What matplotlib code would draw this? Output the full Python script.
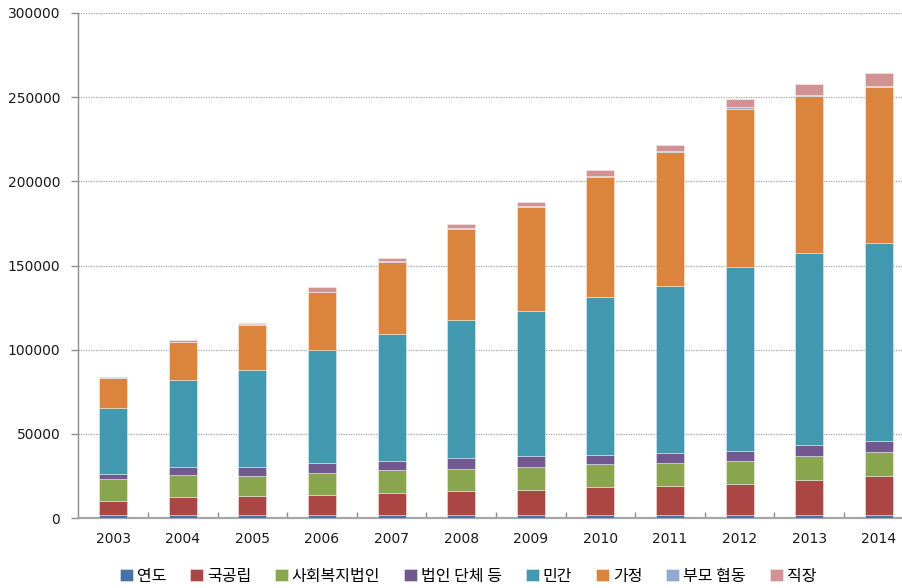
import matplotlib
matplotlib.use('Agg')
import matplotlib.pyplot as plt
from matplotlib.ticker import FixedLocator
import numpy as np

# categories and series
years = ['2003', '2004', '2005', '2006', '2007', '2008',
         '2009', '2010', '2011', '2012', '2013', '2014']
series_names = ['연도', '국공립', '사회복지법인', '법인 단체 등', '민간', '가정', '부모 협동', '직장']

yeondo = [2003, 2004, 2005, 2006, 2007, 2008, 2009, 2010, 2011, 2012, 2013, 2014]
gukgongrip = [8300, 10650, 11240, 11830, 12610, 14020, 14790, 16170, 17000, 18360, 20740, 22720]
sahoebokji = [13060, 12900, 11470, 12890, 13650, 13070, 13670, 13660, 13670, 13670, 14250, 14240]
beobin = [2960, 4930, 5750, 5940, 5760, 6540, 6530, 5760, 5930, 5960, 6540, 6770]
mingan = [39040, 51270, 57230, 67300, 75460, 81760, 86100, 93700, 99200, 109300, 113900, 117400]
gajeong = [17820, 22560, 27100, 34030, 42740, 54300, 61600, 71400, 79400, 93800, 93000, 92700]
bumo = [150, 300, 300, 500, 500, 500, 600, 600, 700, 800, 900, 1000]
jikjang = [200, 1100, 900, 2500, 2000, 2200, 2400, 3200, 3700, 5200, 6500, 7700]

colors = ['#4572A7', '#AA4643', '#89A54E', '#71588F', '#4198AF', '#DB843D', '#93A9CF', '#D19392']

data = [yeondo, gukgongrip, sahoebokji, beobin, mingan, gajeong, bumo, jikjang]

fig = plt.figure(figsize=(9.03, 5.88), dpi=100)
ax = fig.add_axes([78.4 / 903, 1 - 518 / 588, (913.6 - 78.4) / 903, (518 - 13) / 588])

x = np.arange(len(years))
bottom = np.zeros(len(years))
handles = []
for name, vals, c in zip(series_names, data, colors):
    b = ax.bar(x, vals, width=0.4, bottom=bottom, color=c, label=name,
               edgecolor=(1, 1, 1, 0.45), linewidth=0.6, zorder=3)
    handles.append(b)
    bottom += np.array(vals)

ax.set_xlim(-0.5, len(years) - 0.5)
ax.set_ylim(0, 300000)
ax.set_yticks(np.arange(0, 300001, 50000))
ax.yaxis.grid(True, linestyle=(0, (1, 1)), color='#A6A6A6', linewidth=0.9, zorder=0)

# tick marks between categories, pointing in (Excel style)
ax.set_xticks(x)
ax.set_xticklabels(years)
ax.xaxis.set_minor_locator(FixedLocator(np.arange(0.5, len(years) - 0.5, 1)))
ax.tick_params(axis='x', which='major', length=0, pad=10, labelsize=10, labelcolor='#1a1a1a')
ax.tick_params(axis='x', which='minor', direction='in', length=4, color='#8C8C8C', width=1)
ax.tick_params(axis='y', length=5, color='#8C8C8C', width=1, pad=8, labelsize=10, labelcolor='#1a1a1a')

for s in ['top', 'right']:
    ax.spines[s].set_visible(False)
ax.spines['left'].set_color('#8C8C8C')
ax.spines['bottom'].set_color('#A6A6A6')
ax.spines['bottom'].set_linewidth(1.6)
ax.spines['left'].set_linewidth(1.0)

leg = fig.legend(handles, series_names, loc='center', bbox_to_anchor=(468 / 903, 1 - 576 / 588),
                 ncol=8, frameon=False, handlelength=0.8, handleheight=0.8,
                 handletextpad=0.25, columnspacing=1.5,
                 prop={'family': ['Noto Sans CJK KR', 'DejaVu Sans'], 'size': 11.5})

fig.savefig('out.png', dpi=100)
